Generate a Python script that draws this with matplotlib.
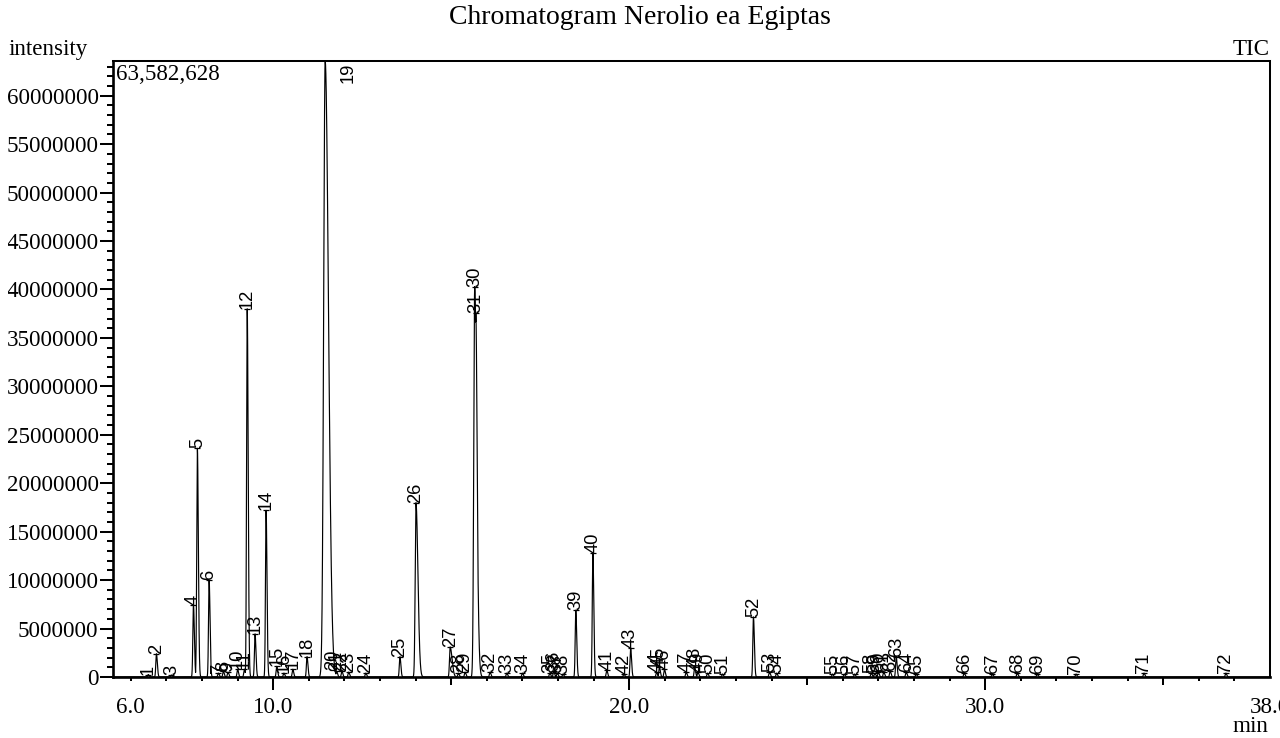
import numpy as np
import matplotlib
matplotlib.use("Agg")
import matplotlib.pyplot as plt
from matplotlib.ticker import MultipleLocator, FixedLocator, FixedFormatter
from matplotlib.transforms import Bbox, TransformedBbox

# ---------------- data ----------------
title = "Chromatogram Nerolio ea Egiptas"
max_intensity = 63582628

peak_labels = [str(i) for i in range(1, 73)]
peak_rt = [6.49, 6.72, 7.14, 7.76, 7.87, 8.20, 8.46, 8.60, 8.73, 9.00,
           9.19, 9.27, 9.49, 9.80, 10.10, 10.30, 10.55, 10.95, 11.46, 11.68,
           11.78, 11.93, 12.12, 12.60, 13.56, 14.01, 14.97, 15.20, 15.39, 15.66,
           15.69, 16.09, 16.56, 17.00, 17.77, 17.88, 17.98, 18.14, 18.50, 18.98,
           19.37, 19.85, 20.04, 20.77, 20.85, 20.99, 21.60, 21.84, 21.93, 22.20,
           22.62, 23.49, 23.94, 24.14, 25.71, 26.04, 26.33, 26.80, 26.90, 27.00,
           27.15, 27.33, 27.50, 27.78, 28.06, 29.41, 30.20, 30.90, 31.46, 32.55,
           34.46, 36.76]
peak_height = [0.25e6, 2.4e6, 0.2e6, 7.45e6, 23.6e6, 10.0e6, 0.4e6, 0.6e6, 0.5e6, 0.8e6,
               0.8e6, 38.0e6, 4.45e6, 17.2e6, 1.1e6, 0.4e6, 0.8e6, 2.1e6, 63582628, 0.7e6,
               0.6e6, 0.6e6, 0.5e6, 0.4e6, 2.1e6, 18.0e6, 3.1e6, 0.4e6, 0.5e6, 40.3e6,
               37.6e6, 0.5e6, 0.4e6, 0.4e6, 0.4e6, 0.6e6, 0.4e6, 0.3e6, 6.9e6, 12.8e6,
               0.7e6, 0.3e6, 3.0e6, 0.5e6, 1.0e6, 0.8e6, 0.5e6, 1.0e6, 0.5e6, 0.4e6,
               0.3e6, 6.2e6, 0.5e6, 0.4e6, 0.3e6, 0.3e6, 0.3e6, 0.4e6, 0.4e6, 0.5e6,
               0.5e6, 0.6e6, 2.1e6, 0.5e6, 0.3e6, 0.4e6, 0.3e6, 0.4e6, 0.3e6, 0.3e6,
               0.4e6, 0.4e6]
# peak widths (sigma, min) and right-side tailing factors
peak_sigma = [0.017] * 72
peak_tail = [1.5] * 72
for idx, s, tl in [(5, 0.018, 1.5), (12, 0.018, 1.5), (19, 0.042, 2.2), (26, 0.022, 2.5),
                   (27, 0.018, 3.0), (30, 0.026, 2.2), (31, 0.02, 2.0)]:
    peak_sigma[idx - 1] = s
    peak_tail[idx - 1] = tl

x_range = (5.5, 38.0)
x_tick_vals = [6, 10, 15, 20, 25, 30, 35, 38]
x_tick_text = ["6.0", "10.0", "", "20.0", "", "30.0", "", "38.0"]

# ---------------- trace ----------------
t = np.linspace(x_range[0], x_range[1], 40000)
trace = np.zeros_like(t)
for rt, h, s, tl in zip(peak_rt, peak_height, peak_sigma, peak_tail):
    sig = np.where(t < rt, s, s * tl)
    trace = np.maximum(trace, h * np.exp(-0.5 * ((t - rt) / sig) ** 2))

# ---------------- figure ----------------
DPI = 100
fig = plt.figure(figsize=(12.8, 7.38), dpi=DPI)
ax = fig.add_axes([113 / 1280, 1 - 677 / 738, (1270 - 113) / 1280, (677 - 61) / 738])

serif = ["Liberation Serif", "DejaVu Serif"]
sans = ["Liberation Sans", "DejaVu Sans"]
fs = 16.6
lfs = 13.2

ax.plot(t, trace, color="black", lw=0.85)
ax.set_xlim(*x_range)
ax.set_ylim(0, max_intensity)

# apex markers and labels
ylim_top = ax.get_ylim()[1]
for lab, rt, h in zip(peak_labels, peak_rt, peak_height):
    if h >= ylim_top * 0.999:
        ax.annotate(lab, (rt, ylim_top), xytext=(16.5, -1), textcoords="offset points",
                    rotation=90, ha="center", va="top", fontsize=lfs, family=sans)
    else:
        ax.plot([rt], [h], ls="none", marker="_", ms=4, mew=0.9, color="black")
        ax.annotate(lab, (rt, h), xytext=(0, 0), textcoords="offset points",
                    rotation=90, ha="center", va="bottom", fontsize=lfs, family=sans)

# spines
for side, w in [("left", 1.9), ("bottom", 1.9), ("top", 1.45), ("right", 1.45)]:
    ax.spines[side].set_linewidth(w)
    ax.spines[side].set_color("black")

# y axis
ax.yaxis.set_major_locator(MultipleLocator(5e6))
ax.yaxis.set_minor_locator(MultipleLocator(1e6))
ax.yaxis.set_major_formatter(matplotlib.ticker.FuncFormatter(lambda v, p: "%d" % round(v)))
ax.tick_params(axis="y", which="major", length=9.4, width=1.45, pad=1, labelsize=fs)
ax.tick_params(axis="y", which="minor", length=4.3, width=1.45)

# x axis
ax.xaxis.set_major_locator(FixedLocator(x_tick_vals))
ax.xaxis.set_major_formatter(FixedFormatter(x_tick_text))
ax.xaxis.set_minor_locator(MultipleLocator(1))
ax.tick_params(axis="x", which="major", length=9.4, width=1.45, pad=5, labelsize=fs)
ax.tick_params(axis="x", which="minor", length=2.9, width=1.45)
for lab in ax.get_xticklabels() + ax.get_yticklabels():
    lab.set_family(serif)

fig.canvas.draw()
tick_len = {6: 2.9, 15: 5.8, 25: 5.8, 35: 5.8, 38: 0}
for tk, v in zip(ax.xaxis.get_major_ticks(), x_tick_vals):
    if v in tick_len:
        tk.tick1line.set_markersize(tick_len[v])

# the left margin of the reference cuts the first digit of the y labels
clip = TransformedBbox(Bbox([[8 / 1280, 0], [1, 1]]), fig.transFigure)
for tk in ax.yaxis.get_major_ticks():
    tk.label1.set_clip_box(clip)
    tk.label1.set_clip_on(True)

# texts
fig.text(640 / 1280, 1 - 17 / 738, title, ha="center", va="center", fontsize=20, family=serif)
fig.text(8 / 1280, 1 - 55 / 738, "intensity", ha="left", va="baseline", fontsize=fs, family=serif)
fig.text(1270 / 1280, 1 - 55 / 738, "TIC", ha="right", va="baseline", fontsize=fs, family=serif)
fig.text(1268 / 1280, 1 - 726 / 738, "min", ha="right", va="center", fontsize=fs, family=serif)
ax.text(0.003, 0.995, f"{max_intensity:,}", transform=ax.transAxes, ha="left", va="top",
        fontsize=fs, family=serif)

fig.savefig("out.png", dpi=DPI)
